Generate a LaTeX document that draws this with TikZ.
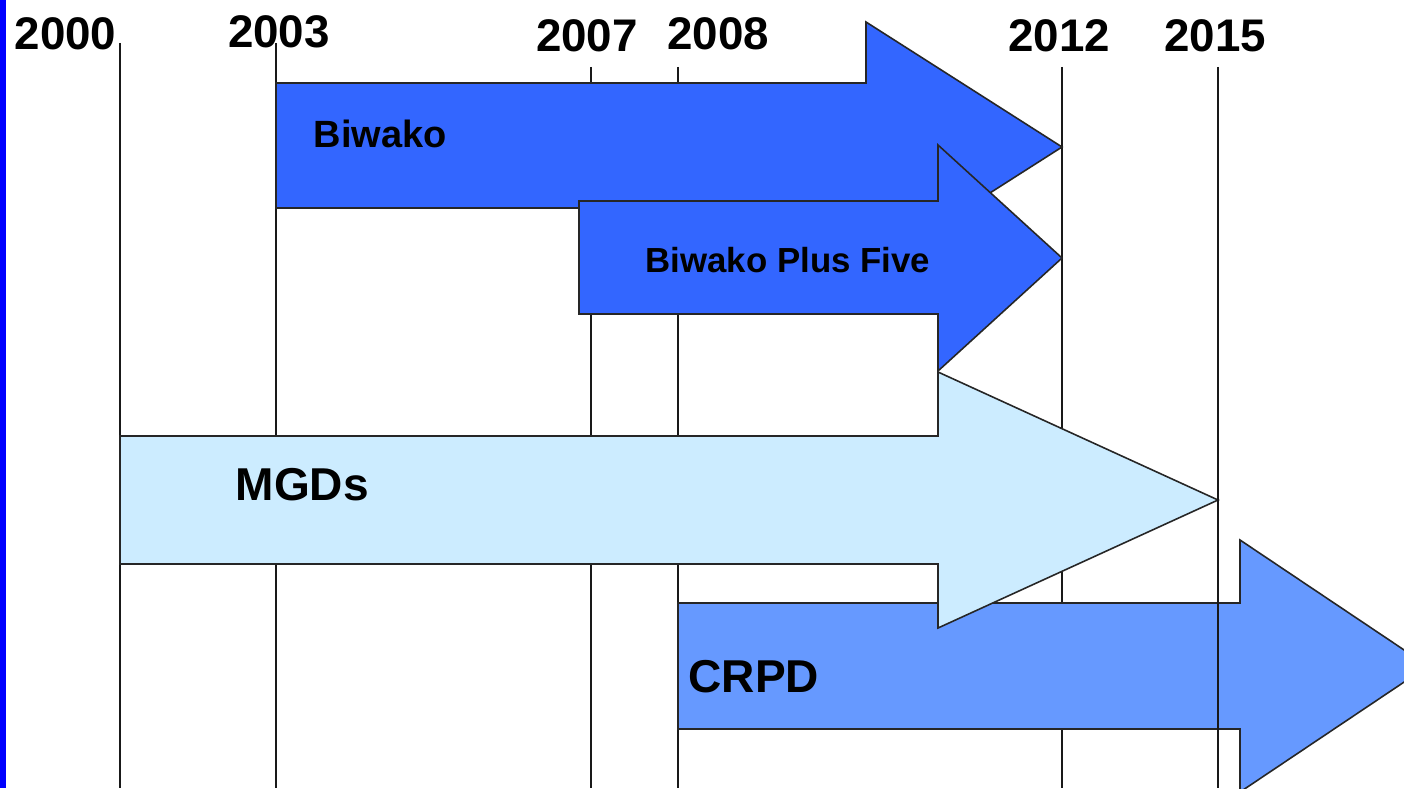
\documentclass[tikz,border=0pt]{standalone}
\usepackage{fontspec}
\setmainfont{Liberation Sans}
\usepackage{tikz}
\tikzset{>=latex}
\usetikzlibrary{calc}
\definecolor{edgeblue}{HTML}{0000FF}
\definecolor{biwakoblue}{HTML}{3366FF}
\definecolor{mgdblue}{HTML}{CCECFF}
\definecolor{crpdblue}{HTML}{6699FF}
\tikzset{
    yearlabel/.style={font=\bfseries\fontsize{13}{14}\selectfont, inner sep=0pt, anchor=base},
    yearline/.style={draw=black!90, line width=0.45pt},
    band/.style={draw=black!85, line width=0.45pt, line join=miter},
    bandlabel/.style={font=\bfseries\fontsize{#1}{14}\selectfont, inner sep=0pt, anchor=base west}
}

\begin{document}
\begin{tikzpicture}[x=0.01cm, y=-0.01cm]
                \useasboundingbox (0, 0) rectangle (1404, 788);
                \fill[white] (0, 0) rectangle (1404, 788);
                \fill[edgeblue] (0, 0) rectangle (6, 788);
                \node[yearlabel, anchor=base east] (y2000) at (117, 50) {2000};
                \node[yearlabel] (y2003) at (279, 48) {2003};
                \node[yearlabel] (y2007) at (587, 52) {2007};
                \node[yearlabel] (y2008) at (718, 50) {2008};
                \node[yearlabel] (y2012) at (1059, 52) {2012};
                \node[yearlabel] (y2015) at (1215, 52) {2015};
                \foreach \x/\top in {120/43, 276/43, 591/67, 678/67, 1062/67}
                    \draw[yearline] (\x, \top) -- (\x, 788);
                \begin{scope}
                    \clip (0, 0) rectangle (1404, 788);
                    \draw[band, fill=biwakoblue] (276, 83) -- (866, 83) -- (866, 22) -- (1062, 147) -- (866, 272) -- (866, 208) -- (276, 208) -- cycle;
                    \draw[band, fill=biwakoblue] (579, 201) -- (938, 201) -- (938, 145) -- (1062, 258) -- (938, 371) -- (938, 314) -- (579, 314) -- cycle;
                    \draw[band, fill=crpdblue] (678, 603) -- (1240, 603) -- (1240, 540) -- (1428, 666) -- (1240, 792) -- (1240, 729) -- (678, 729) -- cycle;
                    \draw[band, fill=mgdblue] (120, 436) -- (938, 436) -- (938, 372) -- (1218, 500) -- (938, 628) -- (938, 564) -- (120, 564) -- cycle;
                \end{scope}
                \draw[yearline] (1218, 67) -- (1218, 788);
                \node[bandlabel=10.8] (biwako) at (313, 147) {Biwako};
                \node[bandlabel=9.9] (plusfive) at (645, 272) {Biwako Plus Five};
                \node[bandlabel=13.1] (mgds) at (235, 500) {MGDs};
                \node[bandlabel=13.1] (crpd) at (688, 692) {CRPD};
            \end{tikzpicture}
\end{document}
